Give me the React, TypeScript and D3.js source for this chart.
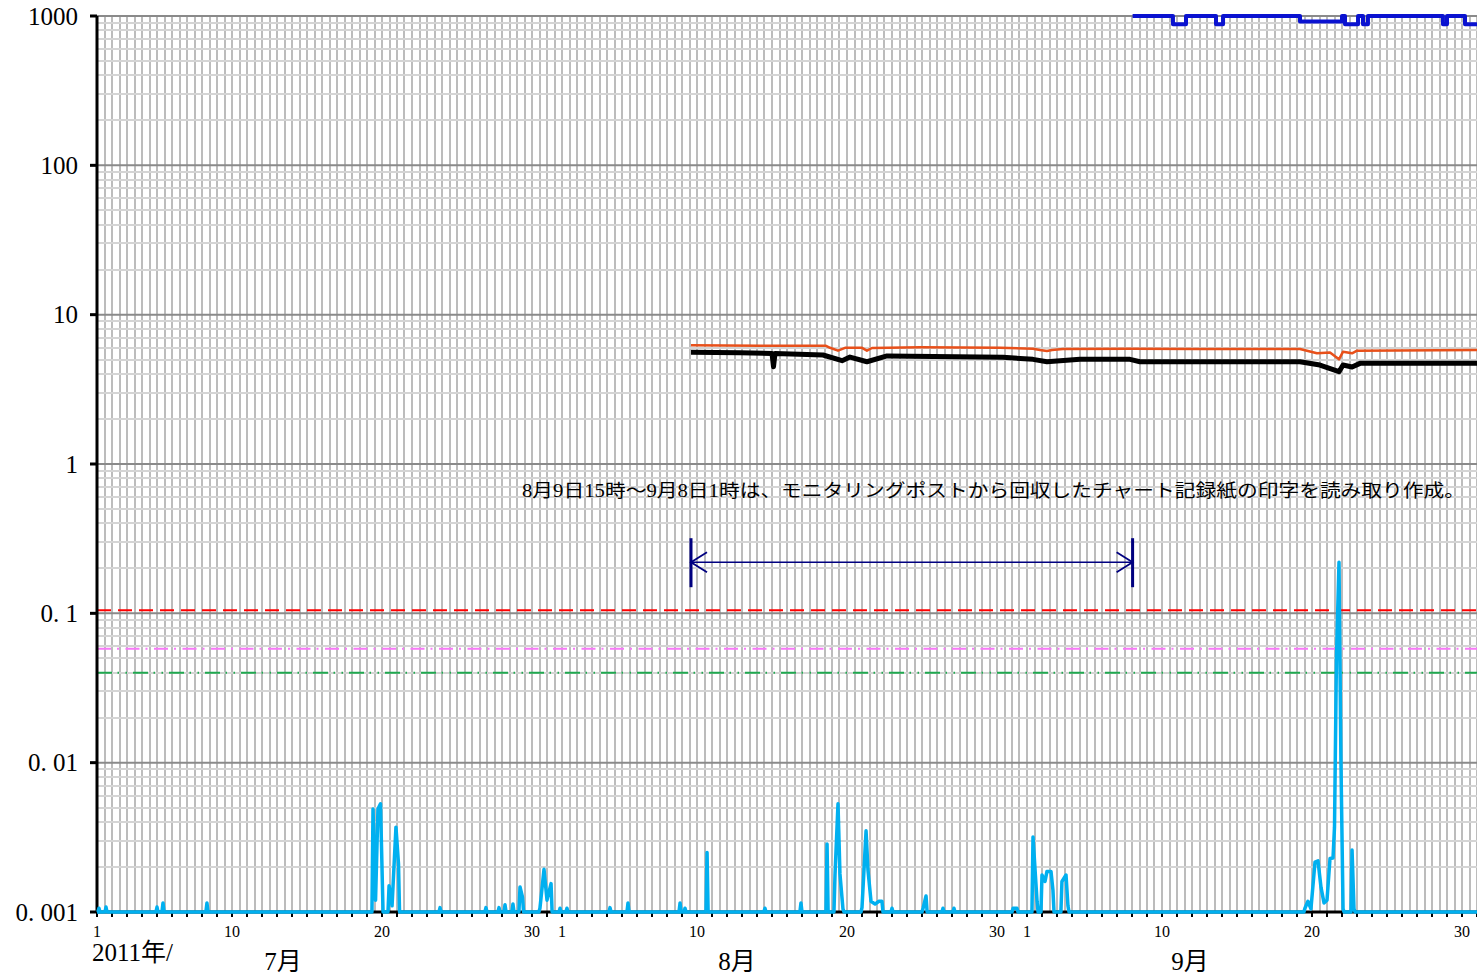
import React from "react";
import * as d3 from "d3";

// ---- data (x = days since 2011-07-01 00:00) ----
const yTickValues = [1000, 100, 10, 1, 0.1, 0.01, 0.001];
const yTickLabels = ["1000", "100", "10", "1", "0. 1", "0. 01", "0. 001"];

const xTickDays = [0, 9, 19, 29, 31, 40, 50, 60, 62, 71, 81, 91];
const xTickLabels = ["1", "10", "20", "30", "1", "10", "20", "30", "1", "10", "20", "30"];
const monthLabels = ["7月", "8月", "9月"];
const monthLabelDays = [12.4, 42.67, 72.87];
const yearLabel = "2011年/";

// cyan series peaks [day, value]; baseline 0.001
const cyanPeaks: [number, number][] = [
  [0.13, 0.00106], [0.6, 0.00108], [4.0, 0.00108], [4.4, 0.00115], [7.33, 0.00115],
  [18.4, 0.0049], [18.57, 0.0012], [18.73, 0.0049], [18.9, 0.0053], [19.07, 0.001],
  [19.47, 0.0015], [19.67, 0.0011], [19.93, 0.0037], [20.1, 0.0021],
  [22.87, 0.00107], [25.93, 0.00107], [26.8, 0.00107], [27.2, 0.00112], [27.73, 0.00113],
  [28.2, 0.00147], [28.37, 0.00125], [29.53, 0.00106], [29.8, 0.00193], [30.0, 0.0012],
  [30.27, 0.00155], [30.87, 0.00106], [31.33, 0.00106],
  [34.2, 0.00107], [35.4, 0.00115], [38.87, 0.00115], [39.2, 0.00106], [40.67, 0.0025],
  [44.53, 0.00106], [46.93, 0.00115], [48.67, 0.00285], [49.2, 0.00177], [49.4, 0.0053],
  [49.53, 0.0018], [49.73, 0.00105], [51.0, 0.00107], [51.27, 0.0035], [51.4, 0.0019],
  [51.6, 0.00118], [51.87, 0.00113], [52.13, 0.00118], [52.33, 0.00118], [53.0, 0.00106],
  [55.07, 0.00106], [55.27, 0.00128], [56.4, 0.00106], [57.13, 0.00106],
  [61.07, 0.00106], [61.33, 0.00106], [62.4, 0.00318], [62.67, 0.00118], [63.0, 0.00177],
  [63.2, 0.0016], [63.33, 0.00187], [63.6, 0.00187], [63.73, 0.0014], [64.33, 0.0016],
  [64.6, 0.00177], [64.73, 0.0011],
  [80.53, 0.00106], [80.73, 0.00118], [80.93, 0.00105], [81.2, 0.00216], [81.4, 0.0022],
  [81.6, 0.00146], [81.8, 0.00115], [82.0, 0.0012], [82.2, 0.00228], [82.4, 0.0023],
  [82.5, 0.0037], [82.63, 0.05], [82.8, 0.22], [82.93, 0.01], [83.07, 0.00105],
  [83.67, 0.0026], [83.8, 0.00105],
];

const orangeSeries: [number, number][] = [
  [39.6, 6.23], [44.2, 6.2], [48.6, 6.19], [48.87, 6.0], [49.4, 5.74], [49.87, 6.0],
  [51.0, 6.0], [51.33, 5.74], [51.67, 5.98], [54.87, 6.04], [60.2, 6.0], [62.4, 5.92],
  [62.87, 5.8], [63.33, 5.71], [63.67, 5.8], [64.4, 5.9], [68.87, 5.92], [73.53, 5.9],
  [80.2, 5.89], [81.33, 5.51], [82.2, 5.58], [82.8, 5.02], [83.07, 5.65], [83.67, 5.51],
  [84.0, 5.74], [92.0, 5.8],
];

const blackSeries: [number, number][] = [
  [39.6, 5.6], [42.87, 5.55], [45.0, 5.5], [45.1, 4.48], [45.2, 5.5], [48.4, 5.37],
  [49.67, 4.92], [50.2, 5.2], [51.33, 4.84], [52.67, 5.29], [60.4, 5.18], [62.4, 5.02],
  [63.33, 4.84], [65.53, 5.02], [68.87, 5.02], [69.53, 4.84], [80.2, 4.84], [81.53, 4.6],
  [82.8, 4.15], [83.07, 4.6], [83.67, 4.46], [84.2, 4.72], [92.0, 4.72],
];

const blueSeries: [number, number][] = [
  [69.04, 1000], [71.73, 880], [72.6, 1000], [74.6, 880], [75.07, 1000], [80.2, 920],
  [83.0, 1000], [83.2, 880], [84.07, 1000], [84.4, 880], [84.73, 1000], [89.73, 880],
  [90.0, 1000], [91.2, 880], [92.0, 880],
];

const refLineValues = [0.105, 0.058, 0.04];
const refLineColors = ["#ff0000", "#f878f8", "#1fa84f"];
const refLineDashes = ["14 7", "14 6 2 6.5", "15 5.5 1.5 6.5 1.5 6"];

const arrowStartDay = 39.6;
const arrowEndDay = 69.04;
const arrowValue = 0.22;
const noteText = "8月9日15時～9月8日1時は、モニタリングポストから回収したチャート記録紙の印字を読み取り作成。";
const noteValue = 0.6;

const FLOOR = 0.001;

function buildCyan(peaks: [number, number][]): [number, number][] {
  const out: [number, number][] = [[0, FLOOR]];
  for (let i = 0; i < peaks.length; i++) {
    const [d, v] = peaks[i];
    const prev = i > 0 ? peaks[i - 1][0] : -10;
    if (d - prev > 0.3) out.push([d - 0.07, FLOOR]);
    out.push([d, v]);
    const next = i < peaks.length - 1 ? peaks[i + 1][0] : 1000;
    if (next - d > 0.3) out.push([d + 0.07, FLOOR]);
  }
  out.push([92, FLOOR]);
  return out;
}

export default function App() {
  const W = 1477, H = 976;
  const left = 97, right = 1477, top = 16, bottom = 912;
  const x = d3.scaleLinear().domain([0, 92]).range([left, right]);
  const y = d3.scaleLog().domain([0.001, 1000]).range([bottom, top]);

  const line = d3.line<[number, number]>().x((d) => x(d[0])).y((d) => y(d[1]));
  const stepLine = d3
    .line<[number, number]>()
    .x((d) => x(d[0]))
    .y((d) => y(d[1]))
    .curve(d3.curveStepAfter);

  const halfDays = d3.range(1, 92 * 2 + 1).map((i) => i / 2);
  const minorVals: number[] = [];
  for (let e = -3; e < 3; e++) for (let m = 2; m <= 9; m++) minorVals.push(m * Math.pow(10, e));
  const dayTicks = d3.range(0, 93);

  const serif = "'Liberation Serif', 'Noto Sans CJK JP', serif";
  const ax0 = x(arrowStartDay), ax1 = x(arrowEndDay), ay = y(arrowValue);

  return (
    <svg width={W} height={H} style={{ position: "absolute", left: 0, top: 0, background: "#fff" }}>
      <rect x={0} y={0} width={W} height={H} fill="#fff" />
      {/* vertical grid */}
      {halfDays.map((d) => (
        <line key={"v" + d} x1={Math.round(x(d))} x2={Math.round(x(d))} y1={top} y2={bottom} stroke="#bcbcbc" strokeWidth={2} shapeRendering="crispEdges" />
      ))}
      {/* minor horizontal grid */}
      {minorVals.map((v) => (
        <line key={"m" + v} x1={left} x2={right} y1={Math.round(y(v))} y2={Math.round(y(v))} stroke="#d4d4d4" strokeWidth={2} shapeRendering="crispEdges" />
      ))}
      {/* major horizontal grid */}
      {yTickValues.map((v) => (
        <line key={"M" + v} x1={left} x2={right} y1={y(v)} y2={y(v)} stroke="#8a8a8a" strokeWidth={2} />
      ))}
      {/* reference lines */}
      {refLineValues.map((v, i) => (
        <line key={"r" + i} x1={left} x2={right} y1={y(v)} y2={y(v)} stroke={refLineColors[i]} strokeWidth={2} strokeDasharray={refLineDashes[i]} />
      ))}
      {/* x axis baseline */}
      <line x1={left} x2={right} y1={bottom} y2={bottom} stroke="#000" strokeWidth={3} />
      {dayTicks.map((d) => (
        <line key={"t" + d} x1={x(d)} x2={x(d)} y1={bottom} y2={bottom + 5} stroke="#000" strokeWidth={2} />
      ))}
      {/* y axis */}
      <line x1={left} x2={left} y1={top} y2={bottom + 1} stroke="#000" strokeWidth={3} />
      {yTickValues.map((v) => (
        <line key={"yt" + v} x1={left - 7} x2={left} y1={y(v)} y2={y(v)} stroke="#000" strokeWidth={3} />
      ))}
      {yTickValues.map((v, i) => (
        <text key={"yl" + v} x={78} y={y(v)} dy="0.35em" textAnchor="end" fontFamily={serif} fontSize={25} fill="#000">
          {yTickLabels[i]}
        </text>
      ))}
      {/* data */}
      <path d={line(buildCyan(cyanPeaks)) || ""} fill="none" stroke="#00b0f0" strokeWidth={3.5} strokeLinejoin="round" />
      <path d={line(blackSeries) || ""} fill="none" stroke="#000" strokeWidth={5} strokeLinejoin="round" />
      <path d={line(orangeSeries) || ""} fill="none" stroke="#e8501a" strokeWidth={2.5} strokeLinejoin="round" />
      <path d={stepLine(blueSeries) || ""} fill="none" stroke="#0a12d0" strokeWidth={4} strokeLinejoin="round" />
      {/* annotation arrow */}
      <g stroke="#000080" fill="none">
        <line x1={ax0} x2={ax0} y1={ay - 24} y2={ay + 25} strokeWidth={3} />
        <line x1={ax1} x2={ax1} y1={ay - 24} y2={ay + 25} strokeWidth={3} />
        <line x1={ax0} x2={ax1} y1={ay} y2={ay} strokeWidth={1.6} />
        <polyline points={`${ax0 + 16},${ay - 10} ${ax0},${ay} ${ax0 + 16},${ay + 10}`} strokeWidth={1.8} />
        <polyline points={`${ax1 - 16},${ay - 10} ${ax1},${ay} ${ax1 - 16},${ay + 10}`} strokeWidth={1.8} />
      </g>
      <text x={522} y={y(noteValue)} fontFamily={serif} fontSize={18} fill="#000" textLength={943} lengthAdjust="spacingAndGlyphs">
        {noteText}
      </text>
      {/* x labels */}
      {xTickDays.map((d, i) => (
        <text key={"xl" + i} x={x(d)} y={937} textAnchor="middle" fontFamily={serif} fontSize={16} fill="#000">
          {xTickLabels[i]}
        </text>
      ))}
      <text x={92} y={961} fontFamily={serif} fontSize={25} fill="#000">{yearLabel}</text>
      {monthLabels.map((m, i) => (
        <text key={"mo" + i} x={x(monthLabelDays[i])} y={970} textAnchor="middle" fontFamily={serif} fontSize={25} fill="#000">
          {m}
        </text>
      ))}
    </svg>
  );
}
